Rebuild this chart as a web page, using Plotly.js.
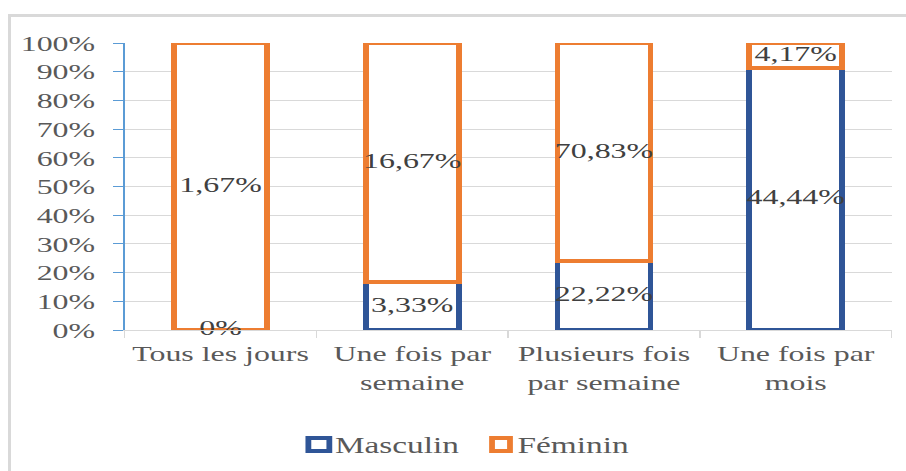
<!DOCTYPE html>
<html>
<head>
<meta charset="utf-8">
<script src="https://cdn.plot.ly/plotly-3.0.1.min.js"></script>
<style>
  html, body { margin: 0; padding: 0; background: #fff; }
  #wrap { position: relative; width: 906px; height: 471px; overflow: hidden; }
  #chart { position: absolute; left: 0; top: 0; width: 625px; height: 471px;
           transform: scaleX(1.4496); transform-origin: 0 0; }
  #frame { position: absolute; left: 8px; top: 14px; width: 920px; height: 480px;
           border-top: 3px solid #d9d9d9; border-left: 3px solid #d9d9d9; pointer-events: none; }
</style>
</head>
<body>
<div id="wrap">
  <div id="chart"></div>
  <div id="frame"></div>
</div>
<script>
const categories = ["Tous les jours", "Une fois par<br>semaine", "Plusieurs fois<br>par semaine", "Une fois par<br>mois"];
const seriesNames = ["Masculin", "Féminin"];
const masculin = [0, 3.33, 22.22, 44.44];
const feminin = [1.67, 16.67, 70.83, 4.17];
const yTicks = [0, 10, 20, 30, 40, 50, 60, 70, 80, 90, 100];

const fmt = v => v === 0 ? "0%" : v.toFixed(2).replace(".", ",") + "%";
const totals = masculin.map((m, i) => m + feminin[i]);
const mPct = masculin.map((m, i) => m / totals[i] * 100);
const fPct = feminin.map((f, i) => f / totals[i] * 100);

const serif = "Times New Roman, Liberation Serif, DejaVu Serif, serif";
const blue = "#2F5597";
const orange = "#ED7D31";
const colors = [blue, orange];

// geometry of the (unscaled) plot
const W = 625, H = 471, ML = 85.5, MR = 9.5, MT = 43, MB = 141;
const PW = W - ML - MR, PH = H - MT - MB;
const SX = 906 / W;
const px = x => (x / SX - ML) / PW;       // screen x -> paper x
const py = y => (H - MB - y) / PH;        // screen y -> paper y

const traces = [
  { type: "bar", name: seriesNames[0], x: categories, y: mPct, showlegend: false,
    marker: { color: "#ffffff", line: { color: blue, width: 4 } }, hoverinfo: "skip" },
  { type: "bar", name: seriesNames[1], x: categories, y: fPct, showlegend: false,
    marker: { color: "#ffffff", line: { color: orange, width: 4 } }, hoverinfo: "skip" },
  { type: "scatter", mode: "text", showlegend: false, cliponaxis: false,
    x: categories, y: mPct.map(p => p / 2), text: masculin.map(fmt),
    textfont: { family: serif, size: 22, color: "#404040" }, hoverinfo: "skip" },
  { type: "scatter", mode: "text", showlegend: false, cliponaxis: false,
    x: categories, y: mPct.map((p, i) => p + fPct[i] / 2), text: feminin.map(fmt),
    textfont: { family: serif, size: 22, color: "#404040" }, hoverinfo: "skip" }
];

// manual legend (symbol boxes + labels)
const legendSym = [[308, 329], [492, 510]];
const legendTxt = [333, 516];
const shapes = legendSym.map((s, i) => ({
  type: "rect", xref: "paper", yref: "paper",
  x0: px(s[0]), x1: px(s[1]), y0: py(438), y1: py(451),
  line: { color: colors[i], width: 4 }, fillcolor: "#ffffff"
}));
const annotations = legendTxt.map((x, i) => ({
  xref: "paper", yref: "paper", x: px(x), y: py(445),
  xanchor: "left", yanchor: "middle", showarrow: false, text: seriesNames[i],
  font: { family: serif, size: 23, color: "#595959" }, borderpad: 0
}));

const layout = {
  width: W, height: H,
  margin: { l: ML, r: MR, t: MT, b: MB },
  paper_bgcolor: "rgba(0,0,0,0)", plot_bgcolor: "#ffffff",
  barmode: "stack", bargap: 0.515,
  font: { family: serif, size: 22, color: "#595959" },
  xaxis: {
    type: "category", tickson: "boundaries", ticks: "outside", ticklen: 7,
    tickcolor: "#d9d9d9", showline: true, linecolor: "#d9d9d9", linewidth: 1,
    showgrid: false, ticklabelstandoff: 4,
    tickfont: { family: serif, size: 22, color: "#595959" },
    range: [-0.5, 3.5]
  },
  yaxis: {
    range: [0, 100], tickvals: yTicks, ticktext: yTicks.map(v => v + "%"),
    ticks: "outside", ticklen: 7, tickcolor: "#5B9BD5",
    showline: true, linecolor: "#5B9BD5", linewidth: 1,
    gridcolor: "#d9d9d9", gridwidth: 1, zeroline: false, ticklabelstandoff: 8,
    tickfont: { family: serif, size: 22, color: "#595959" }
  },
  shapes: shapes,
  annotations: annotations,
  showlegend: false
};

Plotly.newPlot("chart", traces, layout, { displayModeBar: false, staticPlot: true });
</script>
</body>
</html>
